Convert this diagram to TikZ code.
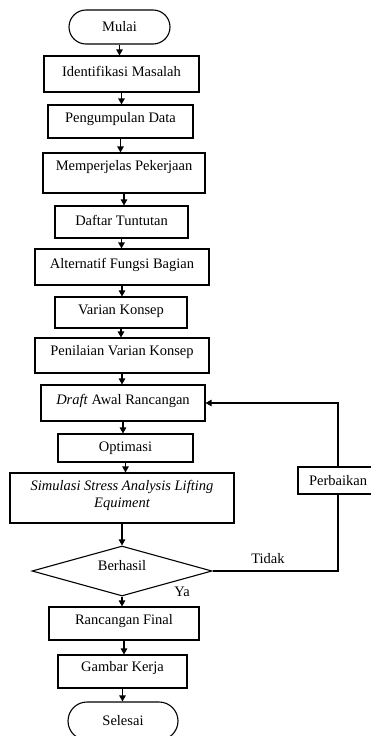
\documentclass[tikz,border=0pt]{standalone}
\usepackage{fontspec}
\setmainfont{Liberation Serif}
\usetikzlibrary{arrows.meta,shapes.geometric}

\tikzset{
  txt/.style={font=\fontsize{14.5}{17}\selectfont},
  stepbox/.style={draw, rectangle, line width=1.1pt, inner sep=0pt, txt},
  terminal/.style={draw, rectangle, rounded corners=17pt, line width=1.1pt, inner sep=0pt, txt},
  decision/.style={draw, diamond, line width=1.1pt, inner sep=0pt, txt},
  arr/.style={line width=1.1pt, -{Triangle[length=6pt,width=6.5pt]}},
  link/.style={line width=1.1pt},
}

\begin{document}
\begin{tikzpicture}[x=1pt,y=-1pt]
  \useasboundingbox (0,0) rectangle (371,736);
  \fill[white] (0,0) rectangle (371,736);
  \clip (0,0) rectangle (371,736);

  % main column
  \node[terminal, minimum width=101pt, minimum height=34pt] (mulai) at (119.5,27) {Mulai};
  \node[stepbox, minimum width=155pt, minimum height=36pt] (ident) at (121.5,74) {};
  \node[txt] at (121.5,71) {Identifikasi Masalah};
  \node[stepbox, minimum width=145pt, minimum height=33pt] (kumpul) at (120.5,121.5) {};
  \node[txt] at (120.5,119.5) {Pengumpulan Data};
  \node[stepbox, minimum width=162pt, minimum height=40pt] (jelas) at (124,173) {};
  \node[txt] at (124,167) {Memperjelas Pekerjaan};
  \node[stepbox, minimum width=133pt, minimum height=32pt] (daftar) at (121.5,222) {};
  \node[txt] at (121.5,220.5) {Daftar Tuntutan};
  \node[stepbox, minimum width=174pt, minimum height=36pt] (alt) at (122,267) {};
  \node[txt] at (122,264.5) {Alternatif Fungsi Bagian};
  \node[stepbox, minimum width=132pt, minimum height=31pt] (varian) at (121,312.5) {};
  \node[txt] at (121,311) {Varian Konsep};
  \node[stepbox, minimum width=174pt, minimum height=35pt] (nilai) at (122,355.5) {};
  \node[txt] at (122,352.5) {Penilaian Varian Konsep};
  \node[stepbox, minimum width=164pt, minimum height=36pt] (draft) at (123,403) {};
  \node[txt] at (123,401) {\textit{Draft} Awal Rancangan};
  \node[stepbox, minimum width=135pt, minimum height=28pt] (optim) at (125.5,448) {};
  \node[txt] at (125.5,448.5) {Optimasi};
  \node[stepbox, minimum width=224pt, minimum height=50pt] (simul) at (122,498) {};
  \node[txt, align=center, font=\fontsize{14.5}{17}\selectfont\itshape] at (122,495.5)
    {Simulasi Stress Analysis Lifting\\Equiment};
  \node[decision, minimum width=180pt, minimum height=50pt, aspect=3.6] (hasil) at (122,571) {};
  \node[txt] at (122,565.5) {Berhasil};
  \node[stepbox, minimum width=150pt, minimum height=33pt] (final) at (124,623.5) {};
  \node[txt] at (124,621.5) {Rancangan Final};
  \node[stepbox, minimum width=129pt, minimum height=33pt] (gambar) at (122.5,671.5) {};
  \node[txt] at (122.5,668.5) {Gambar Kerja};
  \node[terminal, minimum width=110pt, minimum height=38pt, rounded corners=19pt] (selesai) at (123,721) {Selesai};

  % side loop
  \node[stepbox, minimum width=80pt, minimum height=27pt] (perb) at (338,480.5) {Perbaikan};

  % labels
  \node[txt] at (268,559) {Tidak};
  \node[txt] at (182,592) {Ya};

  % connectors
  \foreach \a/\b in {mulai/ident, ident/kumpul, kumpul/jelas, jelas/daftar,
                     daftar/alt, alt/varian, varian/nilai, nilai/draft,
                     draft/optim, optim/simul, simul/hasil, hasil/final,
                     final/gambar, gambar/selesai}
    \draw[arr] (\a.south) -- (\a.south |- \b.north);
  \draw[link] (hasil.east) -| (perb.south);
  \draw[arr] (perb.north) |- (draft.east);
\end{tikzpicture}
\end{document}
